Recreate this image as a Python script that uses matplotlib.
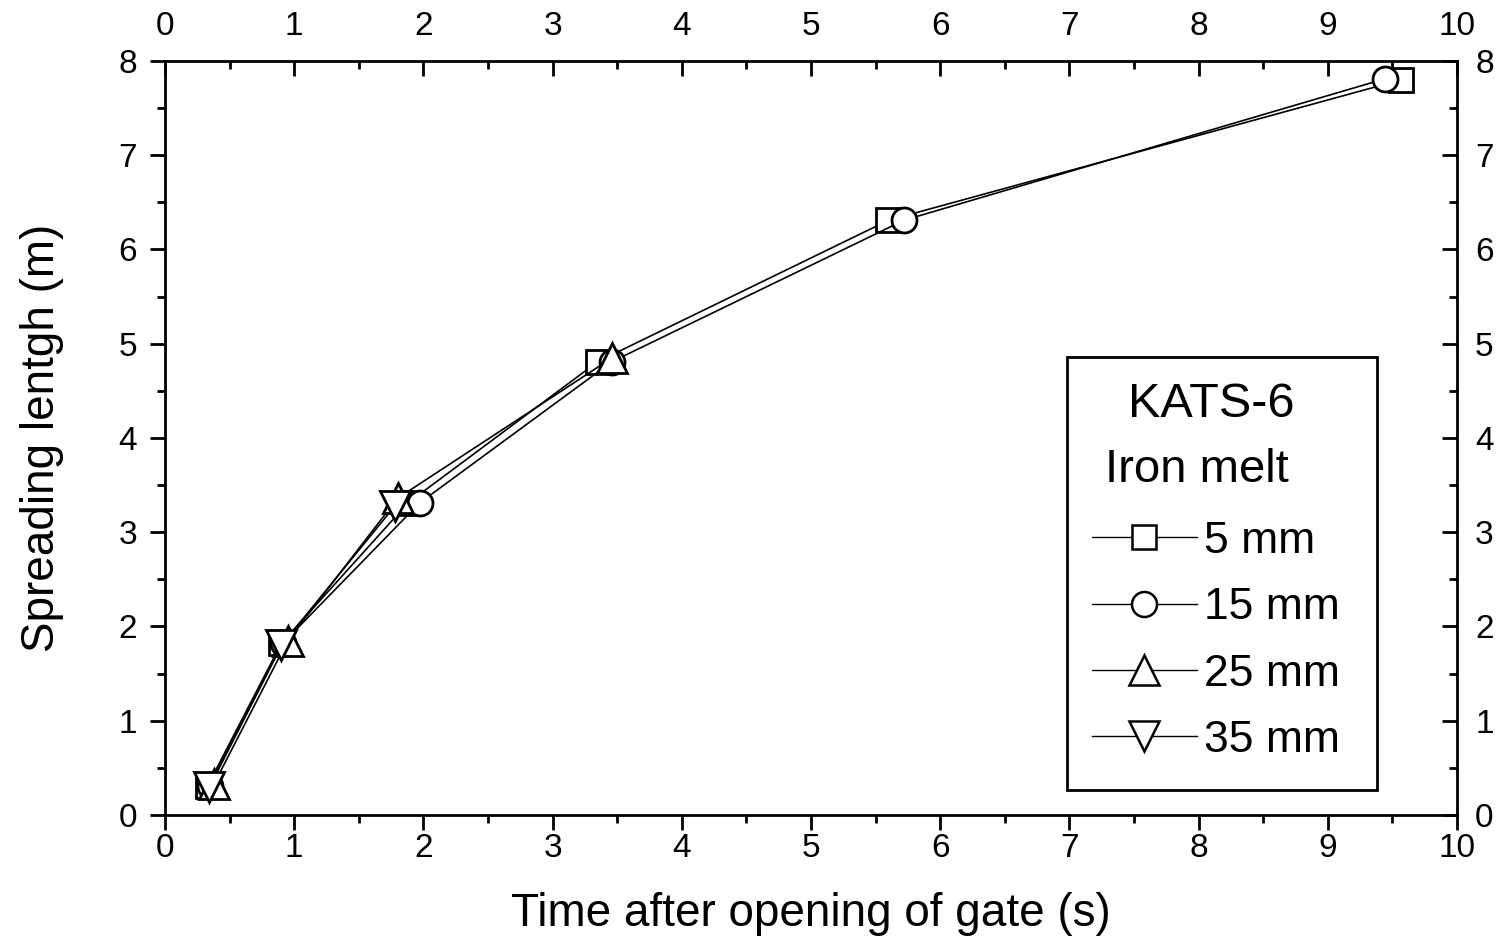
import matplotlib
matplotlib.use("Agg")
import matplotlib.pyplot as plt
from matplotlib.patches import Rectangle

plt.rcParams['font.family'] = ['Liberation Sans', 'DejaVu Sans']

# Spreading front position vs. time for four sensor depths
t_5mm = [0.33, 0.90, 1.88, 3.35, 5.60, 9.57]
L_5mm = [0.31, 1.82, 3.31, 4.81, 6.31, 7.80]

t_15mm = [0.35, 0.91, 1.97, 3.46, 5.72, 9.44]
L_15mm = [0.31, 1.82, 3.31, 4.81, 6.31, 7.81]

t_25mm = [0.38, 0.95, 1.80, 3.46]
L_25mm = [0.33, 1.85, 3.36, 4.85]

t_35mm = [0.34, 0.90, 1.78]
L_35mm = [0.30, 1.80, 3.28]

labels = ['5 mm', '15 mm', '25 mm', '35 mm']
x_ticks = list(range(0, 11))
y_ticks = list(range(0, 9))

fig = plt.figure(figsize=(15, 9.41), dpi=100)
ax = fig.add_axes([0.11, 0.1339, 0.8613, 0.8013])

style = dict(color='black', lw=1.2, mfc='white', mec='black', mew=2.0)
h1, = ax.plot(t_5mm, L_5mm, marker='s', ms=17, label=labels[0], **style)
h2, = ax.plot(t_15mm, L_15mm, marker='o', ms=18, label=labels[1], **style)
h3, = ax.plot(t_25mm, L_25mm, marker='^', ms=21, label=labels[2], **style)
h4, = ax.plot(t_35mm, L_35mm, marker='v', ms=21, label=labels[3], **style)

ax.set_xlim(0, 10)
ax.set_ylim(0, 8)
ax.set_xticks(x_ticks)
ax.set_yticks(y_ticks)
ax.set_xticks([x + 0.5 for x in x_ticks[:-1]], minor=True)
ax.set_yticks([y + 0.5 for y in y_ticks[:-1]], minor=True)

for s in ax.spines.values():
    s.set_linewidth(2.0)

ax.tick_params(axis='both', which='major', labelsize=24, width=2, length=11, direction='out')
ax.tick_params(axis='both', which='minor', width=2, length=6, direction='out')
ax.tick_params(axis='x', which='major', pad=2)
ax.tick_params(axis='y', which='major', pad=9)

# Mirrored axes on top and right with inward ticks
axt = ax.secondary_xaxis('top')
axt.set_xticks(x_ticks)
axt.set_xticks([x + 0.5 for x in x_ticks[:-1]], minor=True)
axt.tick_params(which='major', labelsize=24, width=2, length=11, direction='in', pad=14)
axt.tick_params(which='minor', width=2, length=6, direction='in')

axr = ax.secondary_yaxis('right')
axr.set_yticks(y_ticks)
axr.set_yticks([y + 0.5 for y in y_ticks[:-1]], minor=True)
axr.tick_params(which='major', labelsize=24, width=2, length=11, direction='in', pad=13)
axr.tick_params(which='minor', width=2, length=6, direction='in')

ax.set_xlabel('Time after opening of gate (s)', fontsize=33, labelpad=20)
ax.set_ylabel('Spreading lentgh (m)', fontsize=33, labelpad=39)

# Legend box with title lines
box = Rectangle((0.698, 0.033), 0.240, 0.574, transform=ax.transAxes,
                fill=True, facecolor='white', edgecolor='black', lw=2.0, zorder=4)
ax.add_patch(box)
ax.text(0.810, 0.544, 'KATS-6', transform=ax.transAxes, ha='center', va='center',
        fontsize=35, zorder=5)
ax.text(0.7276, 0.4576, 'Iron melt', transform=ax.transAxes, ha='left', va='center',
        fontsize=34, zorder=5)
leg = ax.legend(handles=[h1, h2, h3, h4], loc='upper left',
                bbox_to_anchor=(0.7175, 0.390), frameon=False, fontsize=32,
                markerscale=1.0, handlelength=2.36, handletextpad=0.15,
                labelspacing=0.57, borderpad=0.0, borderaxespad=0.0)
leg.set_zorder(6)
for lh in leg.legend_handles:
    lh.set_linewidth(1.0)
    lh.set_markeredgewidth(1.8)

fig.savefig('out.png', dpi=100)
